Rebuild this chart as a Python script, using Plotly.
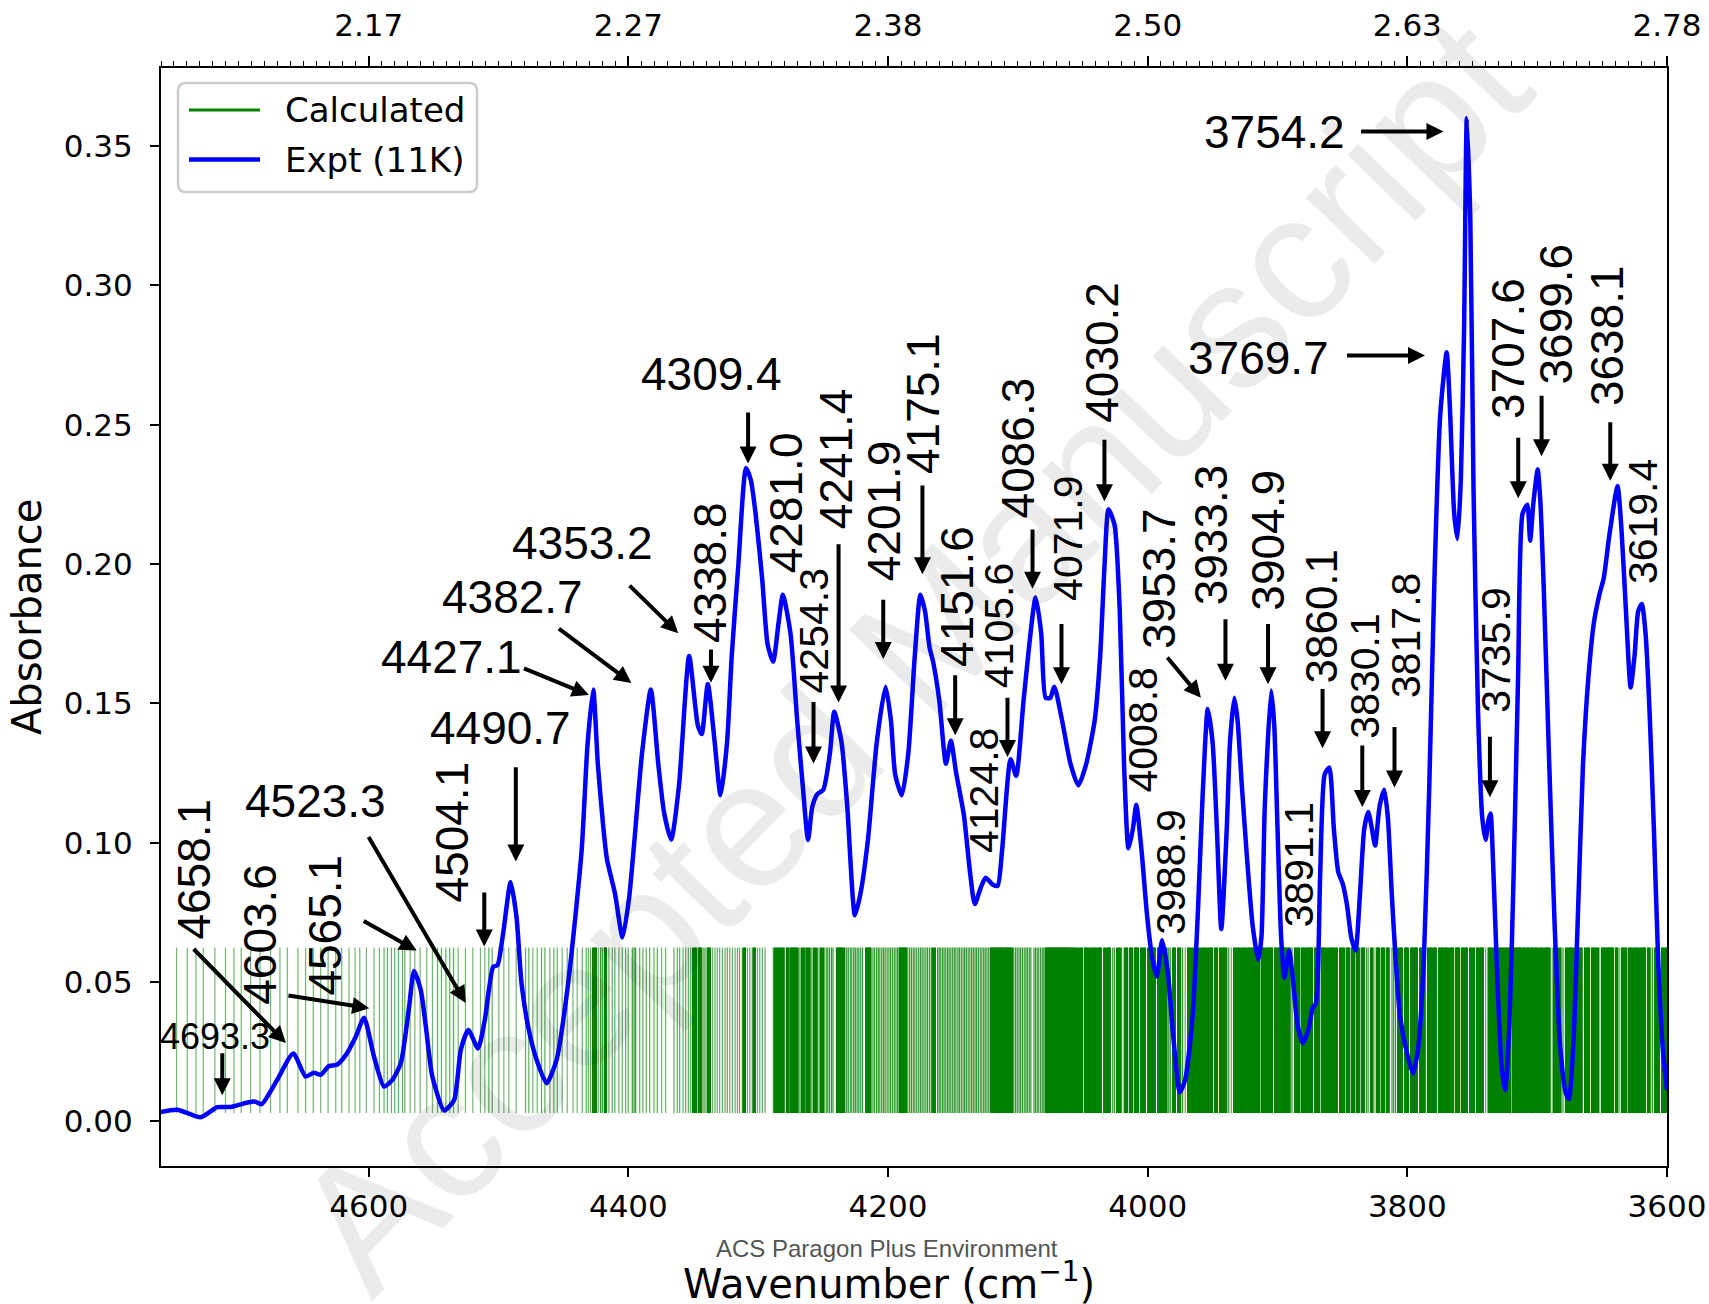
import numpy as np
import plotly.graph_objects as go

# ---------------------------------------------------------------- data
# Experimental absorption spectrum at 11 K
expt_wn = [
    4762.0, 4747.5, 4729.5, 4716.7, 4706.4, 4693.3, 4687.5, 4682.5, 4670.5, 4658.1,
    4648.6, 4642.2, 4637.0, 4630.6, 4624.7, 4617.7, 4610.0, 4603.6, 4595.9, 4588.2,
    4581.8, 4575.3, 4568.9, 4565.1, 4559.9, 4556.0, 4551.0, 4541.9, 4534.2, 4529.1,
    4523.3, 4515.8, 4510.6, 4504.1, 4500.8, 4496.5, 4490.7, 4486.2, 4482.3, 4477.2,
    4470.7, 4463.0, 4455.3, 4446.4, 4436.0, 4431.5, 4427.1, 4423.5, 4419.4, 4416.5,
    4410.4, 4404.5, 4399.5, 4395.5, 4389.5, 4382.7, 4377.0, 4372.5, 4367.0, 4361.0,
    4353.2, 4346.5, 4343.5, 4338.8, 4333.5, 4329.0, 4324.0, 4320.4, 4315.4, 4309.4,
    4305.6, 4302.0, 4297.0, 4292.7, 4288.5, 4284.3, 4281.0, 4275.1, 4270.0, 4265.8,
    4261.6, 4258.3, 4254.3, 4249.9, 4244.8, 4241.4, 4235.8, 4231.4, 4225.5, 4221.3,
    4215.5, 4208.7, 4201.9, 4197.8, 4194.5, 4189.4, 4184.4, 4179.4, 4175.1, 4171.5,
    4168.0, 4165.3, 4160.5, 4155.4, 4151.6, 4147.5, 4141.6, 4137.0, 4133.2, 4128.5,
    4124.8, 4119.5, 4115.6, 4112.2, 4105.6, 4101.3, 4095.4, 4086.3, 4082.0, 4078.6,
    4075.0, 4071.9, 4066.0, 4059.3, 4053.4, 4047.5, 4040.8, 4036.6, 4033.3, 4030.2,
    4025.5, 4021.5, 4018.2, 4014.8, 4011.4, 4008.8, 4004.7, 4000.5, 3996.3, 3992.9,
    3988.9, 3984.6, 3980.4, 3975.3, 3971.1, 3965.3, 3961.1, 3957.7, 3953.7, 3950.0,
    3946.7, 3943.3, 3939.1, 3936.6, 3933.3, 3930.8, 3927.5, 3923.3, 3919.1, 3914.9,
    3912.4, 3909.8, 3904.9, 3902.5, 3900.0, 3897.2, 3894.7, 3891.1, 3888.0, 3884.6,
    3880.5, 3876.3, 3872.9, 3870.4, 3867.1, 3863.7, 3860.1, 3856.6, 3853.2, 3849.9,
    3846.5, 3843.2, 3839.9, 3836.5, 3833.2, 3830.1, 3827.3, 3824.8, 3821.4, 3817.8,
    3815.0, 3812.0, 3809.0, 3805.8, 3801.5, 3795.7, 3791.5, 3787.3, 3783.1, 3778.9,
    3774.7, 3769.7, 3767.3, 3763.9, 3761.4, 3758.8, 3756.3, 3754.2, 3751.5, 3749.0,
    3745.6, 3742.3, 3739.7, 3737.6, 3735.9, 3734.0, 3730.6, 3727.3, 3724.7, 3721.4,
    3718.1, 3714.7, 3711.3, 3707.6, 3705.4, 3702.9, 3699.6, 3697.5, 3694.9, 3690.7,
    3686.5, 3682.3, 3678.1, 3675.6, 3672.2, 3668.9, 3664.7, 3660.5, 3656.3, 3652.1,
    3648.7, 3644.5, 3638.1, 3635.0, 3631.6, 3628.0, 3625.0, 3622.2, 3619.4, 3616.5,
    3613.5, 3610.1, 3606.8, 3603.4, 3600.0,
]
expt_abs = [
    0.0032, 0.0042, 0.0015, 0.0051, 0.0052, 0.0068, 0.0071, 0.0062, 0.0149, 0.0244,
    0.0161, 0.0175, 0.0167, 0.0199, 0.0203, 0.0238, 0.0304, 0.0372, 0.0232, 0.0125,
    0.0149, 0.0209, 0.0411, 0.0540, 0.0471, 0.0340, 0.0161, 0.0039, 0.0077, 0.0256,
    0.0328, 0.0262, 0.0364, 0.0555, 0.0561, 0.0674, 0.0859, 0.0734, 0.0495, 0.0340,
    0.0221, 0.0137, 0.0221, 0.0495, 0.0972, 0.1350, 0.1550, 0.1280, 0.1060, 0.0940,
    0.0820, 0.0660, 0.0800, 0.1000, 0.1320, 0.1550, 0.1284, 0.1108, 0.1011, 0.1206,
    0.1670, 0.1421, 0.1390, 0.1570, 0.1360, 0.1170, 0.1360, 0.1670, 0.1990, 0.2345,
    0.2300, 0.2180, 0.1950, 0.1710, 0.1650, 0.1790, 0.1890, 0.1750, 0.1440, 0.1210,
    0.1010, 0.1130, 0.1175, 0.1190, 0.1320, 0.1470, 0.1360, 0.1130, 0.0740, 0.0816,
    0.1010, 0.1360, 0.1560, 0.1440, 0.1245, 0.1170, 0.1320, 0.1670, 0.1890, 0.1830,
    0.1700, 0.1650, 0.1510, 0.1283, 0.1366, 0.1250, 0.1100, 0.0900, 0.0780, 0.0840,
    0.0874, 0.0850, 0.0845, 0.0970, 0.1300, 0.1240, 0.1520, 0.1880, 0.1750, 0.1520,
    0.1520, 0.1560, 0.1440, 0.1280, 0.1206, 0.1280, 0.1440, 0.1670, 0.1990, 0.2197,
    0.2140, 0.1830, 0.1280, 0.0980, 0.1050, 0.1136, 0.0970, 0.0740, 0.0580, 0.0520,
    0.0650, 0.0540, 0.0310, 0.0105, 0.0150, 0.0386, 0.0777, 0.1167, 0.1480, 0.1360,
    0.1050, 0.0690, 0.1050, 0.1360, 0.1520, 0.1440, 0.1206, 0.0933, 0.0700, 0.0580,
    0.0660, 0.1130, 0.1546, 0.1420, 0.1050, 0.0660, 0.0515, 0.0613, 0.0503, 0.0347,
    0.0281, 0.0328, 0.0406, 0.0425, 0.0894, 0.1245, 0.1270, 0.1050, 0.0894, 0.0855,
    0.0777, 0.0660, 0.0613, 0.0816, 0.1050, 0.1110, 0.1050, 0.0990, 0.1130, 0.1190,
    0.1090, 0.0816, 0.0580, 0.0386, 0.0270, 0.0172, 0.0270, 0.0580, 0.1206, 0.1987,
    0.2533, 0.2760, 0.2570, 0.2180, 0.2090, 0.2300, 0.2845, 0.3600, 0.3236, 0.2260,
    0.1480, 0.1090, 0.1010, 0.1080, 0.1105, 0.0933, 0.0500, 0.0190, 0.0113, 0.0347,
    0.0894, 0.1596, 0.2180, 0.2213, 0.2084, 0.2220, 0.2340, 0.2220, 0.1910, 0.1280,
    0.0700, 0.0270, 0.0105, 0.0080, 0.0270, 0.0700, 0.1280, 0.1596, 0.1790, 0.1890,
    0.1950, 0.2100, 0.2280, 0.2120, 0.1830, 0.1557, 0.1670, 0.1830, 0.1857, 0.1750,
    0.1480, 0.1050, 0.0580, 0.0270, 0.0113,
]

# Calculated transition positions (cm-1), plotted as equal-height sticks
calc_lines = [
    # sparse high-frequency end
    4748.0, 4739.8, 4733.1, 4727.5, 4718.5, 4710.3, 4703.8, 4698.2, 4691.0, 4683.8,
    4675.6, 4668.4, 4662.7, 4654.5, 4648.6, 4642.7, 4637.0, 4631.3, 4625.4, 4620.8,
    4615.2, 4610.5, 4606.9, 4601.8, 4595.9, 4591.8, 4588.2, 4585.6, 4582.5, 4580.0,
    4577.1, 4574.0, 4572.2, 4568.1, 4564.5, 4560.4, 4555.3, 4550.9, 4547.0, 4544.0,
    4540.6, 4537.6, 4534.7,
    4531.1, 4525.5, 4519.8, 4513.9, 4510.6, 4507.5, 4504.9, 4499.8, 4495.9, 4492.1,
    4486.4, 4479.2, 4476.7, 4473.6, 4470.2, 4466.9, 4464.3, 4460.5, 4457.4, 4454.8,
    4451.0, 4447.1,
    # 4445 - 4294
    4442.7, 4439.4, 4435.5, 4432.5, 4430.9, 4429.1, 4427.3, 4426.2, 4425.3, 4423.2,
    4421.4, 4420.1, 4418.4, 4417.5, 4415.0, 4412.4, 4410.4, 4407.3, 4404.7, 4402.1,
    4400.1, 4397.0, 4395.6, 4394.4, 4391.3, 4388.8, 4386.2, 4383.6, 4380.3, 4377.7,
    4374.4, 4371.3, 4364.9, 4362.3, 4360.5, 4357.9, 4355.9, 4353.8, 4352.0, 4350.2,
    4349.1, 4348.2, 4346.1, 4345.0, 4344.3, 4342.5, 4341.0, 4339.2, 4338.1, 4337.4,
    4335.3, 4333.3, 4331.5, 4329.7, 4327.6, 4325.5, 4323.8, 4321.9, 4319.9, 4317.8,
    4316.0, 4314.4, 4312.2, 4311.0, 4310.1, 4308.3, 4306.5, 4304.5, 4303.2, 4302.4,
    4300.6, 4298.8, 4296.8, 4294.7,
    # 4290 - 4060
    4288.3, 4287.0, 4285.9, 4284.5, 4283.6, 4282.1, 4281.0, 4279.8, 4278.2, 4277.3,
    4276.0, 4274.6, 4273.9, 4273.1, 4272.2, 4271.4, 4270.5, 4269.0, 4267.8, 4266.2,
    4265.1, 4263.7, 4262.4, 4261.3, 4259.8, 4258.6, 4257.0, 4255.9, 4254.4, 4253.1,
    4251.6, 4250.5, 4249.2, 4247.6, 4246.4, 4245.1, 4243.6, 4242.4, 4239.6, 4238.7,
    4237.9, 4237.0, 4236.1, 4235.3, 4234.5, 4233.2, 4231.8, 4230.6, 4229.1, 4227.9,
    4226.4, 4225.2, 4223.8, 4222.5, 4221.0, 4219.6, 4216.8, 4216.0, 4215.2, 4214.3,
    4213.0, 4211.6, 4210.3, 4208.8, 4207.5, 4206.3, 4204.8, 4203.5, 4202.2, 4200.7,
    4199.3, 4198.0, 4196.6, 4195.2, 4193.9, 4192.6, 4191.3, 4190.5, 4189.6, 4188.8,
    4187.9, 4187.0, 4186.1, 4184.8, 4183.4, 4182.0, 4180.6, 4179.3, 4177.9, 4176.4,
    4175.0, 4173.7, 4172.3, 4170.8, 4169.5, 4168.0, 4166.6, 4165.3, 4164.2, 4161.8,
    4160.6, 4159.4, 4158.0, 4156.8, 4155.5, 4154.1, 4152.9, 4151.6, 4150.2, 4148.9,
    4147.7, 4146.2, 4145.0, 4143.6, 4142.2, 4141.0, 4139.7, 4138.3, 4137.0, 4135.6,
    4134.3, 4133.0, 4131.8, 4130.4, 4129.0, 4127.7, 4126.3, 4125.1, 4123.8, 4122.4,
    4121.0, 4119.9, 4119.1, 4118.3, 4117.4, 4116.6, 4115.7, 4114.8, 4114.0, 4113.1,
    4112.3, 4111.4, 4110.6, 4109.7, 4108.9, 4108.0, 4107.2, 4106.3, 4105.4, 4104.5,
    4103.2, 4101.8, 4100.5, 4099.1, 4097.9, 4096.5, 4095.1, 4093.8, 4092.6, 4091.2,
    4090.0, 4087.6, 4086.4, 4085.1, 4083.9, 4082.5, 4081.2, 4080.0, 4078.8, 4078.0,
    4077.2, 4076.4, 4075.6, 4074.8, 4074.0, 4073.2, 4072.4, 4071.6, 4070.8, 4070.0,
    4069.2, 4068.4, 4067.6, 4066.8, 4066.0, 4065.2, 4064.4, 4063.6, 4062.8, 4062.0,
    4061.2, 4060.4,
    # 4060 - 3600 (densest part)
    4059.0, 4058.0, 4057.1, 4056.3, 4054.4, 4053.3, 4051.3, 4050.6, 4048.7, 4047.6,
    4046.6, 4045.6, 4043.6, 4042.5, 4041.6, 4040.8, 4038.9, 4037.9, 4036.8, 4035.8,
    4033.8, 4032.7, 4030.7, 4029.8, 4028.9, 4026.9, 4025.6, 4023.5, 4022.4, 4021.3,
    4020.1, 4017.9, 4016.9, 4016.0, 4014.0, 4013.0, 4012.2, 4010.2, 4009.1, 4008.3,
    4007.5, 4005.5, 4004.4, 4003.2, 4002.1, 3999.9, 3998.8, 3997.6, 3996.5, 3995.3,
    3994.2, 3992.2, 3991.6, 3989.6, 3988.5, 3987.3, 3986.2, 3985.0, 3983.8, 3982.6,
    3980.6, 3979.6, 3978.8, 3976.8, 3975.7, 3974.5, 3973.1, 3971.1, 3969.0, 3968.1,
    3967.2, 3965.2, 3964.1, 3963.0, 3961.9, 3960.8, 3958.8, 3957.7, 3956.6, 3955.6,
    3953.6, 3952.5, 3951.5, 3950.5, 3948.5, 3947.5, 3946.6, 3944.6, 3943.5, 3942.4,
    3941.3, 3940.2, 3939.0, 3937.6, 3935.6, 3933.6, 3932.5, 3930.5, 3929.5, 3928.6,
    3926.6, 3925.7, 3924.8, 3922.8, 3921.8, 3920.8, 3919.7, 3918.6, 3917.5, 3916.5,
    3915.5, 3914.5, 3912.5, 3911.4, 3910.3, 3909.2, 3908.1, 3907.0, 3906.0, 3905.1,
    3904.2, 3902.2, 3901.1, 3900.0, 3898.9, 3897.8, 3896.7, 3895.6, 3894.5, 3893.4,
    3892.3, 3891.2, 3890.0, 3888.8, 3886.8, 3885.8, 3884.7, 3883.7, 3881.7, 3880.6,
    3879.5, 3878.4, 3877.3, 3876.2, 3875.1, 3874.1, 3873.4, 3871.4, 3870.3, 3869.2,
    3868.2, 3866.2, 3865.2, 3864.1, 3863.1, 3861.1, 3860.0, 3858.9, 3857.8, 3856.7,
    3855.2, 3854.1, 3852.1, 3851.0, 3850.0, 3849.0, 3847.0, 3846.0, 3845.1, 3843.1,
    3842.2, 3841.3, 3839.3, 3838.3, 3837.4, 3835.4, 3834.4, 3833.5, 3831.5, 3830.2,
    3828.2, 3827.1, 3825.8, 3823.8, 3822.9, 3822.0, 3820.0, 3819.0, 3818.1, 3816.1,
    3815.0, 3813.8, 3811.8, 3810.5, 3809.1, 3807.1, 3806.0, 3805.0, 3804.0, 3802.0,
    3801.0, 3800.2, 3799.4, 3797.4, 3796.4, 3795.4, 3794.4, 3793.4, 3792.4, 3790.4,
    3789.4, 3788.3, 3787.2, 3786.0, 3784.0, 3783.0, 3782.1, 3781.4, 3779.4, 3778.6,
    3777.8, 3775.8, 3774.8, 3773.9, 3773.1, 3771.1, 3770.2, 3769.4, 3768.5, 3766.5,
    3765.6, 3764.9, 3762.9, 3761.9, 3761.1, 3760.3, 3758.3, 3757.2, 3756.1, 3755.0,
    3753.9, 3751.9, 3750.8, 3749.7, 3748.7, 3746.7, 3745.6, 3744.6, 3743.6, 3742.7,
    3741.8, 3739.7, 3737.7, 3736.6, 3735.6, 3734.6, 3732.6, 3731.6, 3730.7, 3728.7,
    3727.7, 3726.6, 3725.5, 3724.4, 3723.3, 3722.2, 3721.2, 3719.2, 3718.2, 3717.3,
    3716.2, 3715.3, 3714.2, 3713.2, 3712.3, 3711.2, 3710.2, 3709.3, 3708.2, 3707.2,
    3706.3, 3705.2, 3704.3, 3703.8, 3701.8, 3700.8, 3699.9, 3697.9, 3697.0, 3696.1,
    3694.1, 3693.0, 3691.9, 3690.8, 3689.6, 3687.6, 3686.7, 3685.8, 3683.8, 3682.7,
    3681.5, 3680.1, 3678.1, 3677.0, 3675.9, 3674.9, 3673.9, 3672.9, 3670.9, 3669.8,
    3668.7, 3667.6, 3666.5, 3665.2, 3663.2, 3662.1, 3661.0, 3660.1, 3658.1, 3657.0,
    3655.9, 3654.8, 3653.7, 3652.4, 3650.4, 3649.5, 3648.6, 3647.7, 3646.8, 3645.9,
    3645.0, 3644.1, 3643.2, 3642.4, 3641.6, 3639.6, 3638.5, 3637.0, 3635.0, 3633.9,
    3632.8, 3631.8, 3629.8, 3628.7, 3627.7, 3626.7, 3624.7, 3623.7, 3622.8, 3620.8,
    3619.8, 3618.8, 3617.8, 3616.9, 3614.9, 3613.8, 3612.6, 3611.2, 3609.2, 3608.1,
    3607.1, 3606.1, 3604.1, 3603.0, 3601.9, 3600.8,
]
calc_base = 0.003
calc_top = 0.0624

x_ticks = [4600, 4400, 4200, 4000, 3800, 3600]
y_ticks = [0.00, 0.05, 0.10, 0.15, 0.20, 0.25, 0.30, 0.35]

# Band assignments: text centre (wn, abs), font size, text angle,
# arrow tail and arrow head (wn, abs) when an arrow is drawn
BIG, MID, SMALL = 46, 41, 36
bands = [
    (4693.3, (4718.4, 0.0304), SMALL, 0, (4712.8, 0.0250), (4712.8, 0.0094)),
    (4658.1, (4734.3, 0.0905), BIG, -90, (4736.0, 0.0624), (4663.8, 0.0281)),
    (4603.6, (4683.5, 0.0671), BIG, -90, (4663.0, 0.0453), (4599.6, 0.0406)),
    (4565.1, (4634.4, 0.0703), BIG, -90, (4605.0, 0.0722), (4563.1, 0.0613)),
    (4523.3, (4641.1, 0.1151), BIG, 0, (4600.8, 0.1026), (4525.3, 0.0425)),
    (4504.1, (4535.6, 0.1038), BIG, -90, (4511.0, 0.0827), (4511.0, 0.0628)),
    (4490.7, (4498.4, 0.1413), BIG, 0, (4486.7, 0.1276), (4486.7, 0.0933)),
    (4427.1, (4536.2, 0.1667), BIG, 0, (4481.6, 0.1628), (4430.4, 0.1530)),
    (4382.7, (4489.2, 0.1881), BIG, 0, (4454.7, 0.1772), (4397.7, 0.1573)),
    (4353.2, (4435.4, 0.2076), BIG, 0, (4400.2, 0.1928), (4361.6, 0.1752)),
    (4338.8, (4337.2, 0.1971), BIG, -90, (4336.4, 0.1699), (4336.4, 0.1574)),
    (4309.4, (4335.9, 0.2683), BIG, 0, (4307.8, 0.2549), (4307.8, 0.2361)),
    (4281.0, (4278.0, 0.2221), BIG, -90, None, None),
    (4254.3, (4257.4, 0.1760), MID, -90, (4257.4, 0.1510), (4257.4, 0.1284)),
    (4241.4, (4239.8, 0.2377), BIG, -90, (4238.1, 0.2076), (4238.1, 0.1503)),
    (4201.9, (4203.3, 0.2192), BIG, -90, (4203.7, 0.1877), (4203.7, 0.1659)),
    (4175.1, (4173.5, 0.2576), BIG, -90, (4173.5, 0.2287), (4173.5, 0.1963)),
    (4151.6, (4147.0, 0.1885), BIG, -90, (4148.3, 0.1606), (4148.3, 0.1386)),
    (4124.8, (4126.5, 0.1187), MID, -90, None, None),
    (4105.6, (4114.3, 0.1778), MID, -90, (4108.0, 0.1526), (4108.0, 0.1308)),
    (4086.3, (4100.0, 0.2418), BIG, -90, (4088.7, 0.2129), (4088.7, 0.1911)),
    (4071.9, (4061.0, 0.2092), MID, -90, (4066.4, 0.1790), (4066.4, 0.1569)),
    (4030.2, (4035.8, 0.2759), BIG, -90, (4033.3, 0.2451), (4033.3, 0.2225)),
    (4008.8, (4003.9, 0.1405), MID, -90, None, None),
    (3988.9, (3982.1, 0.0896), MID, -90, None, None),
    (3953.7, (3991.7, 0.1948), BIG, -90, (3985.8, 0.1670), (3959.0, 0.1520)),
    (3933.3, (3951.4, 0.2106), BIG, -90, (3940.1, 0.1807), (3940.1, 0.1581)),
    (3904.9, (3907.3, 0.2084), BIG, -90, (3907.3, 0.1790), (3907.3, 0.1569)),
    (3891.1, (3883.8, 0.0921), MID, -90, None, None),
    (3860.1, (3865.8, 0.1815), 44, -90, (3865.3, 0.1557), (3865.3, 0.1339)),
    (3830.1, (3832.6, 0.1596), MID, -90, (3834.7, 0.1354), (3834.7, 0.1128)),
    (3817.8, (3801.5, 0.1743), MID, -90, (3809.9, 0.1421), (3809.9, 0.1198)),
    (3769.7, (3914.9, 0.2740), BIG, 0, (3847.7, 0.2748), (3786.4, 0.2748)),
    (3754.2, (3902.3, 0.3552), BIG, 0, (3836.8, 0.3552), (3772.2, 0.3552)),
    (3735.9, (3731.9, 0.1692), MID, -90, (3736.4, 0.1386), (3736.4, 0.1163)),
    (3707.6, (3722.6, 0.2775), BIG, -90, (3714.6, 0.2459), (3714.6, 0.2236)),
    (3699.6, (3685.7, 0.2898), BIG, -90, (3696.6, 0.2609), (3696.6, 0.2387)),
    (3638.1, (3646.2, 0.2818), BIG, -90, (3643.7, 0.2514), (3643.7, 0.2299)),
    (3619.4, (3618.5, 0.2154), MID, -90, None, None),
]

# ---------------------------------------------------------------- figure
W, H = 1709, 1304
L, R, T, B = 161, 42, 68, 138
PW, PH = W - L - R, H - T - B

def px_x(px):
    return (px - L) / PW

def px_y(py):
    return (H - B - py) / PH

fig = go.Figure()

# stick spectrum: closely spaced sticks merge into a solid band
pos = np.sort(np.array(calc_lines))
gaps = np.diff(pos)
nearest = np.minimum(np.r_[np.inf, gaps], np.r_[gaps, np.inf])
stick_alpha = np.select(
    [nearest <= 1.15, nearest <= 1.6, nearest <= 3.0], [1.0, 0.8, 0.62], default=0.55
)
stick_colors = [f"rgba(0,128,0,{a:.2f})" for a in stick_alpha]
stick_widths = np.where(nearest <= 1.15, 1.2, 0.95)
fig.add_trace(go.Bar(
    x=pos, y=np.full(pos.size, calc_top - calc_base), base=calc_base,
    width=stick_widths, marker=dict(color=stick_colors, line=dict(width=0)),
    showlegend=False, hoverinfo="skip", name="Calculated",
))

fig.add_trace(go.Scatter(
    x=expt_wn, y=expt_abs, mode="lines", name="Expt (11K)",
    line=dict(color="#0000ff", width=4.5, shape="spline", smoothing=0.6),
    showlegend=False,
))

# carrier for the top wavelength axis
fig.add_trace(go.Scatter(x=[None], y=[None], xaxis="x2", showlegend=False, hoverinfo="skip"))

annotations = []
for band, (tx, ty), size, angle, tail, head in bands:
    annotations.append(dict(
        x=tx, y=ty, xref="x", yref="y", text=f"{band:.1f}", showarrow=False,
        textangle=angle, xanchor="center", yanchor="middle",
        font=dict(family="Liberation Sans, Arial", size=size, color="black"),
    ))
    if tail is not None:
        annotations.append(dict(
            x=head[0], y=head[1], ax=tail[0], ay=tail[1], xref="x", yref="y",
            axref="x", ayref="y", text="", showarrow=True, arrowhead=2,
            arrowsize=0.85, arrowwidth=4, arrowcolor="black", standoff=0,
        ))

# axis titles and page texts
annotations += [
    dict(x=px_x(27), y=0.5, xref="paper", yref="paper", text="Absorbance",
         textangle=-90, showarrow=False, xanchor="center", yanchor="middle",
         font=dict(family="DejaVu Sans", size=40, color="black")),
    dict(x=px_x(889), y=px_y(1281), xref="paper", yref="paper",
         text="Wavenumber (cm<sup>−1</sup>)", showarrow=False,
         xanchor="center", yanchor="middle",
         font=dict(family="DejaVu Sans", size=40, color="black")),
    dict(x=px_x(887), y=px_y(1248), xref="paper", yref="paper",
         text="ACS Paragon Plus Environment", showarrow=False,
         xanchor="center", yanchor="middle",
         font=dict(family="Liberation Sans, Arial", size=24, color="#555555")),
    dict(x=px_x(910), y=px_y(654), xref="paper", yref="paper",
         text="Accepted Manuscript", showarrow=False, textangle=-46,
         xanchor="center", yanchor="middle",
         font=dict(family="Liberation Sans, Arial", size=180, color="rgba(0,0,0,0.08)")),
]

# legend drawn by hand
lx0, lx1, ly0, ly1 = px_x(178), px_x(477), px_y(192), px_y(83)
rx, ry = 8 / PW, 8 / PH
legend_path = (
    f"M {lx0 + rx},{ly1} L {lx1 - rx},{ly1} Q {lx1},{ly1} {lx1},{ly1 - ry} "
    f"L {lx1},{ly0 + ry} Q {lx1},{ly0} {lx1 - rx},{ly0} "
    f"L {lx0 + rx},{ly0} Q {lx0},{ly0} {lx0},{ly0 + ry} "
    f"L {lx0},{ly1 - ry} Q {lx0},{ly1} {lx0 + rx},{ly1} Z"
)
shapes = [
    dict(type="path", path=legend_path, xref="paper", yref="paper",
         fillcolor="rgba(255,255,255,0.85)", line=dict(color="#cccccc", width=2.5)),
    dict(type="line", xref="paper", yref="paper", x0=px_x(189), x1=px_x(260),
         y0=px_y(110), y1=px_y(110), line=dict(color="green", width=3)),
    dict(type="line", xref="paper", yref="paper", x0=px_x(189), x1=px_x(260),
         y0=px_y(159.5), y1=px_y(159.5), line=dict(color="#0000ff", width=4.5)),
]
for label, py in (("Calculated", 110), ("Expt (11K)", 159.5)):
    annotations.append(dict(
        x=px_x(283), y=px_y(py), xref="paper", yref="paper", text=label,
        showarrow=False, xanchor="left", yanchor="middle",
        font=dict(family="DejaVu Sans", size=34, color="black"),
    ))

tick_font = dict(family="DejaVu Sans", size=31, color="black")
x_range = [4760, 3600]
fig.update_layout(
    width=W, height=H,
    margin=dict(l=L, r=R, t=T, b=B, autoexpand=False),
    plot_bgcolor="white", paper_bgcolor="white",
    showlegend=False,
    xaxis=dict(
        range=x_range, tickmode="array", tickvals=x_ticks, automargin=False,
        ticks="outside", ticklen=9, tickwidth=2, tickcolor="black",
        showline=True, linecolor="black", linewidth=2.2, mirror=False,
        showgrid=False, zeroline=False, tickfont=tick_font, ticklabelstandoff=3,
    ),
    xaxis2=dict(
        overlaying="x", side="top", anchor="y", range=x_range, automargin=False,
        tickmode="array", tickvals=x_ticks,
        ticktext=[f"{1e4 / v:.2f}" for v in x_ticks],
        ticks="outside", ticklen=10, tickwidth=2, tickcolor="black",
        minor=dict(ticks="outside", ticklen=5, tickwidth=1.3, tickcolor="black",
                   tickmode="linear", tick0=3600, dtick=10),
        showline=True, linecolor="black", linewidth=2.2,
        showgrid=False, zeroline=False, tickfont=tick_font, ticklabelstandoff=8,
    ),
    yaxis=dict(
        range=[-0.016, 0.378], tickmode="array", tickvals=y_ticks, tickformat=".2f",
        automargin=False,
        ticks="outside", ticklen=9, tickwidth=2, tickcolor="black",
        showline=True, linecolor="black", linewidth=2.2, mirror=True,
        showgrid=False, zeroline=False, tickfont=tick_font, ticklabelstandoff=11,
    ),
    annotations=annotations,
    shapes=shapes,
)

fig.write_html("out.html")
